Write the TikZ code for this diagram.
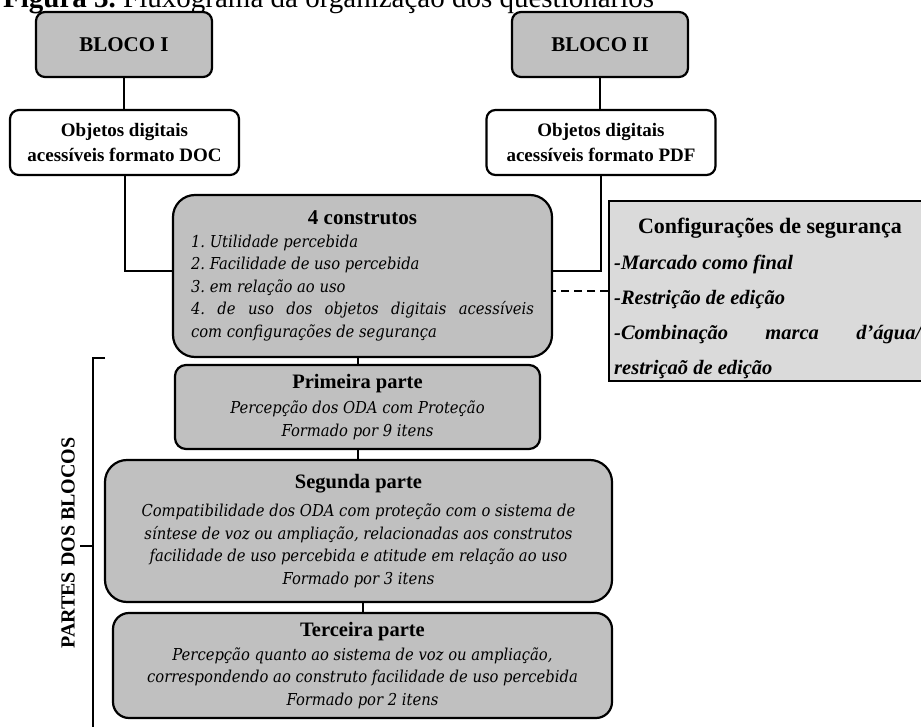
\documentclass[tikz,border=0pt]{standalone}
\usepackage{fontspec}
\setmainfont{Liberation Serif}
\newfontfamily\bodyfont[FakeStretch=0.9]{DejaVu Serif}
\usepackage{xcolor}
\usetikzlibrary{positioning, calc}

\definecolor{boxgray}{RGB}{192,192,192}
\definecolor{cfggray}{RGB}{218,218,218}

\begin{document}
\frenchspacing
\begin{tikzpicture}[x=1pt, y=-1pt,
    bloco/.style={draw, line width=2.2pt, rounded corners=9pt, fill=boxgray,
        minimum width=176pt, minimum height=65pt, font=\bfseries\fontsize{21}{25}\selectfont},
    objeto/.style={draw, line width=2.2pt, rounded corners=9pt, fill=white, align=center,
        minimum width=229pt, minimum height=65pt, font=\bfseries\fontsize{19}{25}\selectfont},
    parte/.style={draw, line width=2.2pt, fill=boxgray, align=center, inner sep=0pt,
        font=\bodyfont\itshape\fontsize{16.4}{22.5}\selectfont},
    link/.style={line width=2pt}]
    \useasboundingbox (0,0) rectangle (921,727);
    \clip (0,0) rectangle (921,727);

    % Title (cut at the top)
    \node[anchor=base west, inner sep=0pt, font=\fontsize{29}{34}\selectfont] (titulo) at (3,7.5)
        {\textbf{Figura 3.} Fluxograma da organização dos questionários};

    % Blocks
    \node[bloco] (bloco1) at (124,44.5) {BLOCO I};
    \node[bloco] (bloco2) at (600,44.5) {BLOCO II};

    \node[objeto] (doc) at (124.5,142.5) {Objetos digitais\\acessíveis formato DOC};
    \node[objeto] (pdf) at (601,142.5) {Objetos digitais\\acessíveis formato PDF};

    % Constructs
    \node[parte, rounded corners=22pt, minimum width=379pt, minimum height=162pt] (construtos) at (362.5,276) {%
        \begin{minipage}{343pt}
        {\centering\rmfamily\upshape\bfseries\fontsize{21}{25}\selectfont 4 construtos\par}
        {\raggedright 1. Utilidade percebida\\
        2. Facilidade de uso percebida\\
        3. em relação ao uso\par}
        4. de uso dos objetos digitais acessíveis\linebreak com configurações de segurança\par
        \end{minipage}};

    % Security settings
    \node[draw, line width=2pt, fill=cfggray, anchor=north west, minimum width=340pt, minimum height=180pt] (config) at (608,200) {};
    \node[anchor=base, inner sep=0pt, font=\bfseries\fontsize{22}{26}\selectfont] (cfgtitulo) at (770,234) {Configurações de segurança};
    \node[anchor=north west, inner sep=0pt, align=left, font=\bfseries\itshape\fontsize{20.5}{35}\selectfont] (cfglista) at (614,255)
        {-Marcado como final\\
        -Restrição de edição\\
        \makebox[307pt][s]{-Combinação marca d’água/}\\
        restriçaõ de edição};

    % Parts
    \node[parte, rounded corners=11pt, minimum width=365pt, minimum height=84pt] (primeira) at (357.5,407)
        {{\rmfamily\upshape\bfseries\fontsize{20.5}{25}\selectfont Primeira parte}\\[3pt]
        Percepção dos ODA com Proteção\\
        Formado por 9 itens};
    \node[parte, rounded corners=22pt, minimum width=507pt, minimum height=142pt] (segunda) at (358.5,531)
        {{\rmfamily\upshape\bfseries\fontsize{20.5}{25}\selectfont Segunda parte}\\[6pt]
        Compatibilidade dos ODA com proteção com o sistema de\\
        síntese de voz ou ampliação, relacionadas aos construtos\\
        facilidade de uso percebida e atitude em relação ao uso\\
        Formado por 3 itens};
    \node[parte, rounded corners=16pt, minimum width=499pt, minimum height=105pt] (terceira) at (362.5,665.5)
        {{\rmfamily\upshape\bfseries\fontsize{20.5}{25}\selectfont Terceira parte}\\[1pt]
        Percepção quanto ao sistema de voz ou ampliação,\\
        correspondendo ao construto facilidade de uso percebida\\
        Formado por 2 itens};

    % Bracket
    \draw[link] (105,358) -- (93,358) -- (93,740);
    \draw[link] (93,546) -- (80,546);
    \node[rotate=90, font=\bfseries\fontsize{20}{24}\selectfont] (partes) at (68,543) {PARTES DOS BLOCOS};

    % Connectors
    \draw[link] (bloco1.south) -- (bloco1.south |- doc.north);
    \draw[link] (bloco2.south) -- (bloco2.south |- pdf.north);
    \draw[link] (doc.south) |- ($(construtos.west)+(0,-5)$);
    \draw[link] (pdf.south) |- ($(construtos.east)+(0,-5)$);
    \draw[link, dash pattern=on 8pt off 5pt] (config.west) -- (config.west -| construtos.east);
    \draw[link] (primeira.north) -- (primeira.north |- construtos.south);
    \draw[link] (primeira.south) -- (primeira.south |- segunda.north);
    \draw[link] (terceira.north) -- (terceira.north |- segunda.south);
\end{tikzpicture}
\end{document}
